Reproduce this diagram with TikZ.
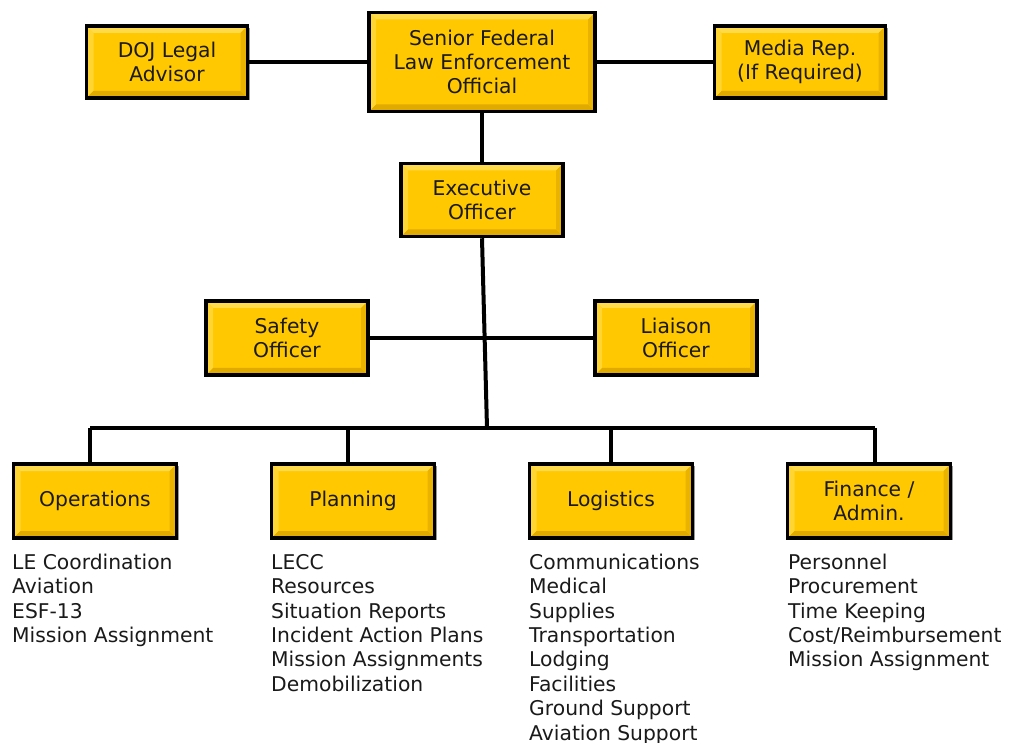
\documentclass[tikz,border=0pt]{standalone}
\usepackage{fontspec}
\setmainfont{DejaVu Sans}
\usetikzlibrary{shadows}
\definecolor{gold}{HTML}{FFC800}
\definecolor{goldhi}{HTML}{FFDA4A}
\definecolor{goldlo}{HTML}{E0AA00}
\definecolor{txt}{HTML}{1A1A1A}
\tikzset{
  bx/.style={draw=black, line width=3.5pt, fill=gold, inner sep=0pt, align=center,
    text=txt, font=\fontsize{20.3}{24}\selectfont,
    drop shadow={shadow xshift=2pt, shadow yshift=-2pt, fill=black!40, opacity=1},
    path picture={
      \fill[goldhi] (path picture bounding box.north west) -- (path picture bounding box.north east)
        -- ([xshift=-7pt,yshift=-7pt]path picture bounding box.north east)
        -- ([xshift=7pt,yshift=-7pt]path picture bounding box.north west) -- cycle;
      \fill[goldhi!70!gold] (path picture bounding box.north west) -- ([xshift=7pt,yshift=-7pt]path picture bounding box.north west)
        -- ([xshift=7pt,yshift=7pt]path picture bounding box.south west) -- (path picture bounding box.south west) -- cycle;
      \fill[goldlo] (path picture bounding box.south west) -- (path picture bounding box.south east)
        -- ([xshift=-7pt,yshift=7pt]path picture bounding box.south east)
        -- ([xshift=7pt,yshift=7pt]path picture bounding box.south west) -- cycle;
      \fill[goldlo!70!gold] (path picture bounding box.north east) -- ([xshift=-7pt,yshift=-7pt]path picture bounding box.north east)
        -- ([xshift=-7pt,yshift=7pt]path picture bounding box.south east) -- (path picture bounding box.south east) -- cycle;
    }},
  lst/.style={anchor=north west, align=left, inner sep=0pt, text=txt, font=\fontsize{20.3}{24.4}\selectfont},
  conn/.style={line width=4pt, black}
}
\newcommand{\fl}{\rule{0pt}{15.5pt}}
\begin{document}
\begin{tikzpicture}[x=1pt,y=-1pt]
\useasboundingbox (0,0) rectangle (1010,743);
% connector points
\coordinate (busL) at (90,428);
\coordinate (busR) at (875,428);
\coordinate (busM) at (487,428);
\coordinate (d1) at (90,428);
\coordinate (d2) at (348,428);
\coordinate (d3) at (611,428);
\coordinate (d4) at (875,428);
% boxes
\node[bx, minimum width=161pt, minimum height=72pt] (doj) at (167,62) {DOJ Legal\\Advisor};
\node[bx, minimum width=226pt, minimum height=99pt] (sfleo) at (482,62) {Senior Federal\\Law Enforcement\\Official};
\node[bx, minimum width=171pt, minimum height=72pt] (media) at (800,62) {Media Rep.\\(If Required)};
\node[bx, minimum width=162pt, minimum height=73pt] (exec) at (482,200) {Executive\\Officer};
\node[bx, minimum width=162pt, minimum height=74pt] (safety) at (287,338) {Safety\\Officer};
\node[bx, minimum width=162pt, minimum height=74pt] (liaison) at (676,338) {Liaison\\Officer};
\node[bx, minimum width=163pt, minimum height=74pt] (ops) at (95,501) {Operations};
\node[bx, minimum width=163pt, minimum height=74pt] (plan) at (353,501) {Planning};
\node[bx, minimum width=163pt, minimum height=74pt] (log) at (611,501) {Logistics};
\node[bx, minimum width=163pt, minimum height=74pt] (fin) at (869,501) {Finance /\\Admin.};
% connectors
\draw[conn] (doj.east) -- (sfleo.west);
\draw[conn] (sfleo.east) -- (media.west);
\draw[conn] (sfleo.south) -- (exec.north);
\draw[conn] (exec.south) -- (busM);
\draw[conn] (safety.east) -- (liaison.west);
\draw[conn] (busL) -- (busR);
\draw[conn] (d1) -- (d1 |- ops.north);
\draw[conn] (d2) -- (d2 |- plan.north);
\draw[conn] (d3) -- (d3 |- log.north);
\draw[conn] (d4) -- (d4 |- fin.north);
% lists
\node[lst] (opsl) at (12,553.5) {\fl LE Coordination\\Aviation\\ESF-13\\Mission Assignment};
\node[lst] (planl) at (271,553.5) {\fl LECC\\Resources\\Situation Reports\\Incident Action Plans\\Mission Assignments\\Demobilization};
\node[lst] (logl) at (529,553.5) {\fl Communications\\Medical\\Supplies\\Transportation\\Lodging\\Facilities\\Ground Support\\Aviation Support};
\node[lst] (finl) at (788,553.5) {\fl Personnel\\Procurement\\Time Keeping\\Cost/Reimbursement\\Mission Assignment};
\end{tikzpicture}
\end{document}
